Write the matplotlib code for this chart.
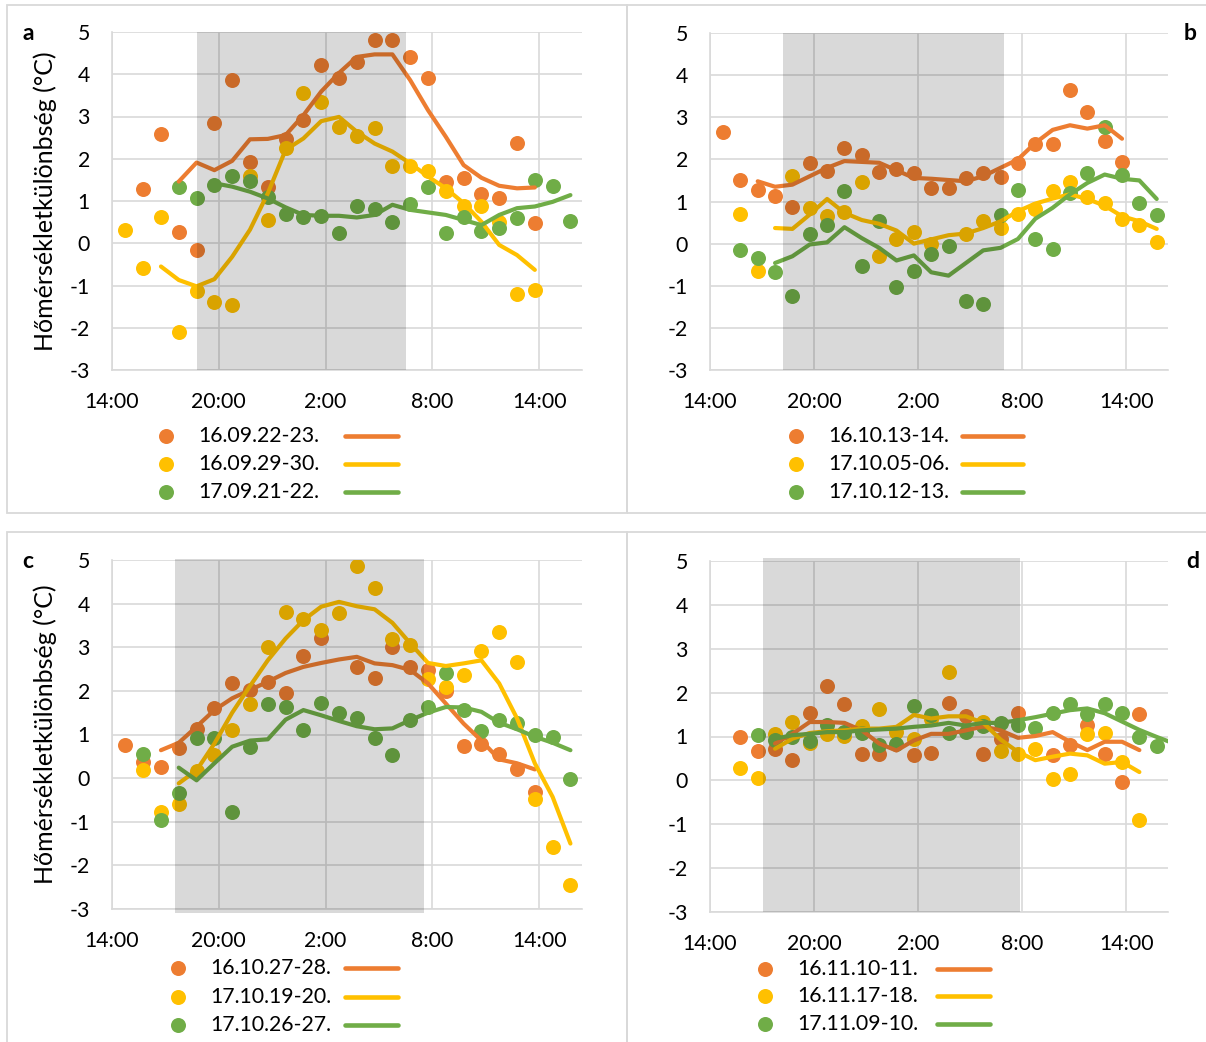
import numpy as np
import matplotlib.pyplot as plt
from matplotlib.patches import Rectangle
from matplotlib.lines import Line2D

plt.rcParams['font.family'] = ['Lato', 'DejaVu Sans']
plt.rcParams['axes.unicode_minus'] = False

W, H = 1206, 1042
nan = np.nan

# measurement times, hours counted from midnight of the first day
HOURS = [14.75, 15.75, 16.75, 17.75, 18.75, 19.75, 20.75, 21.75, 22.75,
         23.75, 24.75, 25.75, 26.75, 27.75, 28.75, 29.75, 30.75, 31.75,
         32.75, 33.75, 34.75, 35.75, 36.75, 37.75, 38.75, 39.75, 40.75]
TICK_HOURS = [14, 20, 26, 32, 38]
TICK_LABELS = ['14:00', '20:00', '2:00', '8:00', '14:00']
COLORS = ['#ED7D31', '#FFC000', '#70AD47']
YLABEL = 'Hőmérsékletkülönbség (°C)'
FS = 15.3

# --- panel a ---
a_labels = ['16.09.22-23.', '16.09.29-30.', '17.09.21-22.']
a_night = (18.78, 30.53)
a_orange_pts = [nan, 1.28, 2.58, 0.26, -0.16, 2.84, 3.86, 1.93, 1.34, 2.46, 2.92, 4.23, 3.90,
                4.29, 4.80, 4.80, 4.40, 3.92, 1.44, 1.54, 1.17, 1.07, 2.38, 0.47, nan, nan]
a_orange_avg = [nan, nan, nan, 1.46, 1.91, 1.73, 1.95, 2.46, 2.47, 2.56, 3.03, 3.59, 4.03,
                4.41, 4.47, 4.47, 3.86, 3.15, 2.52, 1.85, 1.55, 1.36, 1.30, 1.32, nan, nan]
a_yellow_pts = [0.32, -0.59, 0.62, -2.11, -1.13, -1.38, -1.46, 1.58, 0.55, 2.25, 3.56, 3.35, 2.74,
                2.54, 2.73, 1.83, 1.84, 1.72, 1.24, 0.87, 0.89, 0.51, -1.21, -1.10, nan, nan]
a_yellow_avg = [nan, nan, -0.55, -0.87, -1.02, -0.85, -0.32, 0.32, 1.18, 2.21, 2.48, 2.89, 2.99,
                2.64, 2.36, 2.17, 1.89, 1.58, 1.30, 0.95, 0.51, -0.04, -0.28, -0.63, nan, nan]
a_green_pts = [nan, nan, nan, 1.32, 1.07, 1.39, 1.60, 1.48, 1.09, 0.69, 0.63, 0.65, 0.25,
               0.89, 0.81, 0.51, 0.93, 1.32, 0.24, 0.61, 0.28, 0.35, 0.59, 1.50, 1.36, 0.52]
a_green_avg = [nan, nan, nan, nan, nan, 1.42, 1.34, 1.22, 1.06, 0.85, 0.67, 0.65, 0.65,
               0.61, 0.67, 0.91, 0.79, 0.73, 0.67, 0.55, 0.43, 0.67, 0.83, 0.87, 0.98, 1.14]

# --- panel b ---
b_labels = ['16.10.13-14.', '17.10.05-06.', '17.10.12-13.']
b_night = (18.22, 30.94)
b_orange_pts = [2.66, 1.50, 1.28, 1.13, 0.86, 1.92, 1.72, 2.26, 2.10, 1.70, 1.76, 1.68, 1.32,
                1.32, 1.56, 1.67, 1.58, 1.92, 2.36, 2.37, 3.64, 3.13, 2.43, 1.94, nan, nan]
b_orange_avg = [nan, nan, 1.48, 1.35, 1.40, 1.60, 1.80, 1.96, 1.94, 1.92, 1.74, 1.56, 1.54,
                1.51, 1.48, 1.60, 1.80, 2.00, 2.39, 2.70, 2.81, 2.73, 2.81, 2.49, nan, nan]
b_yellow_pts = [nan, 0.71, -0.64, nan, 1.60, 0.85, 0.65, 0.75, 1.47, -0.29, 0.10, 0.28, 0.00,
                nan, 0.23, 0.53, 0.37, 0.71, 0.83, 1.26, 1.46, 1.10, 0.97, 0.59, 0.44, 0.04]
b_yellow_avg = [nan, nan, nan, 0.37, 0.35, 0.69, 1.06, 0.73, 0.56, 0.47, 0.31, 0.00, 0.10,
                0.20, 0.24, 0.37, 0.53, 0.77, 0.95, 1.07, 1.17, 1.06, 0.90, 0.65, 0.53, 0.35]
b_green_pts = [nan, -0.14, -0.33, -0.68, -1.24, 0.23, 0.44, 1.25, -0.52, 0.53, -1.03, -0.66, -0.25,
               -0.06, -1.37, -1.44, 0.67, 1.28, 0.11, -0.12, 1.21, 1.68, 2.77, 1.63, 0.97, 0.67]
b_green_avg = [nan, nan, nan, -0.46, -0.30, -0.02, 0.03, 0.39, 0.13, -0.10, -0.40, -0.28, -0.68,
               -0.76, -0.46, -0.16, -0.10, 0.11, 0.59, 0.85, 1.17, 1.44, 1.64, 1.54, 1.50, 1.06]

# --- panel c ---
c_labels = ['16.10.27-28.', '17.10.19-20.', '17.10.26-27.']
c_night = (17.56, 31.51)
c_orange_pts = [0.77, 0.37, 0.26, 0.68, 1.12, 1.60, 2.17, 2.03, 2.21, 1.96, 2.80, 3.22, nan,
                2.55, 2.30, 3.00, 2.55, 2.48, 1.99, 0.73, 0.79, 0.55, 0.22, -0.31, nan, nan]
c_orange_avg = [nan, nan, 0.64, 0.81, 1.18, 1.56, 1.83, 2.02, 2.21, 2.41, 2.55, 2.64, 2.72,
                2.78, 2.63, 2.59, 2.48, 2.17, 1.71, 1.25, 0.86, 0.43, 0.34, 0.20, nan, nan]
c_yellow_pts = [nan, 0.18, -0.77, -0.60, 0.17, 0.54, 1.10, 1.70, 3.01, 3.80, 3.64, 3.39, 3.79,
                4.86, 4.35, 3.18, 3.05, 2.28, 2.09, 2.36, 2.91, 3.34, 2.67, -0.47, -1.59, -2.44]
c_yellow_avg = [nan, nan, nan, -0.12, 0.18, 0.79, 1.50, 2.11, 2.70, 3.20, 3.62, 3.93, 4.04,
                3.94, 3.87, 3.56, 3.09, 2.64, 2.57, 2.63, 2.70, 2.17, 1.37, 0.34, -0.43, -1.50]
c_green_pts = [nan, 0.55, -0.96, -0.34, 0.91, 0.91, -0.77, 0.72, 1.70, 1.63, 1.10, 1.73, 1.50,
               1.37, 0.91, 0.52, 1.34, 1.63, 2.41, 1.56, 1.08, 1.33, 1.27, 1.00, 0.95, -0.01]
c_green_avg = [nan, nan, nan, 0.24, -0.05, 0.34, 0.72, 0.86, 0.89, 1.34, 1.56, 1.44, 1.31,
               1.19, 1.12, 1.14, 1.33, 1.50, 1.63, 1.62, 1.52, 1.27, 1.12, 0.95, 0.81, 0.64]

# --- panel d ---
d_labels = ['16.11.10-11.', '16.11.17-18.', '17.11.09-10.']
d_night = (17.08, 31.89)
d_orange_pts = [nan, 0.99, 0.66, 0.71, 0.47, 1.54, 2.15, 1.73, 0.61, 0.61, nan, 0.57, 0.63,
                1.77, 1.47, 0.61, 0.94, 1.54, nan, 0.57, 0.81, 1.26, 0.61, -0.04, 1.52, nan]
d_orange_avg = [nan, nan, nan, 0.84, 1.06, 1.33, 1.33, 1.31, 1.14, 0.84, 0.68, 0.91, 1.06,
                1.06, 1.14, 1.23, 1.14, 0.97, 1.01, 1.10, 0.88, 0.69, 0.88, 0.88, 0.69, nan]
d_yellow_pts = [nan, 0.29, 0.05, 1.06, 1.33, 0.86, 1.06, 1.01, 1.25, 1.62, 1.10, 0.95, 1.39,
                2.47, nan, 1.33, 0.68, 0.61, 0.72, 0.04, 0.15, 1.05, 1.08, 0.42, -0.91, nan]
d_yellow_avg = [nan, nan, nan, 0.72, 0.95, 1.08, 1.12, 1.14, 1.18, 1.18, 1.22, 1.49, 1.41,
                1.46, 1.46, 1.31, 0.93, 0.65, 0.46, 0.54, 0.61, 0.57, 0.38, 0.42, 0.19, nan]
d_green_pts = [nan, nan, 1.04, 0.91, 0.99, 0.90, 1.27, 1.10, 1.09, 0.81, 0.84, 1.69, 1.48,
               1.09, 1.10, 1.25, 1.31, 1.27, 1.19, 1.53, 1.74, 1.52, 1.75, 1.54, 0.99, 0.79]
d_green_avg = [nan, nan, nan, 0.95, 1.03, 1.06, 1.10, 1.10, 1.14, 1.16, 1.18, 1.22, 1.25,
               1.31, 1.25, 1.31, 1.31, 1.37, 1.44, 1.52, 1.60, 1.64, 1.53, 1.34, 1.15, 0.99, 0.84]


def fig_box(left, top, right, bottom):
    # pixel box -> figure fraction [x, y, w, h]
    return [left / W, 1 - bottom / H, (right - left) / W, (bottom - top) / H]


def draw_panel(ax, series, night, night_ylim=(-3, 5)):
    for (pts, avg), color in zip(series, COLORS):
        ax.plot(HOURS[:len(pts)], pts, 'o', ms=10.8, mec='none', color=color, zorder=3)
    for (pts, avg), color in zip(series, COLORS):
        ax.plot(HOURS[:len(avg)], avg, '-', lw=3.0, color=color, zorder=4,
                solid_capstyle='round', solid_joinstyle='round')

    # night period, darkening everything below it
    ax.add_patch(Rectangle((night[0], night_ylim[0]), night[1] - night[0],
                           night_ylim[1] - night_ylim[0], facecolor='black',
                           alpha=0.15, lw=0, zorder=6, clip_on=False))

    ax.set_xlim(14, 40.4)
    ax.set_ylim(-3, 5)
    ax.set_xticks(TICK_HOURS)
    ax.set_xticklabels(TICK_LABELS)
    ax.set_yticks(range(-3, 6))
    ax.grid(True, color='#D9D9D9', lw=1.2, zorder=0)
    ax.set_axisbelow(True)
    for side in ['top', 'right']:
        ax.spines[side].set_visible(False)
    for side in ['left', 'bottom']:
        ax.spines[side].set_color('#D9D9D9')
        ax.spines[side].set_linewidth(1.2)
    ax.tick_params(length=0, labelsize=FS, colors='black')
    ax.tick_params(axis='y', pad=16)
    ax.tick_params(axis='x', pad=16)


def draw_legend(fig, labels, marker_x, text_x, line_x, rows_y):
    for label, color, y in zip(labels, COLORS, rows_y):
        fig.add_artist(Line2D([marker_x / W], [1 - y / H], marker='o', ms=10.8, mec='none',
                              color=color, transform=fig.transFigure))
        fig.text(text_x / W, 1 - y / H, label, fontsize=FS, va='center', ha='left')
        fig.add_artist(Line2D([line_x[0] / W, line_x[1] / W], [1 - y / H, 1 - y / H],
                              lw=3.3, color=color, solid_capstyle='round',
                              transform=fig.transFigure))


fig = plt.figure(figsize=(W / 100, H / 100), dpi=100)

# panel frames
for left, top, right, bottom in [(7, 5, 627, 513), (627, 5, 1210, 513),
                                 (7, 532, 627, 1046), (627, 532, 1210, 1046)]:
    x0, y0, w, h = fig_box(left, top, right, bottom)
    fig.add_artist(Rectangle((x0, y0), w, h, fill=False, ec='#D9D9D9', lw=1.3,
                             transform=fig.transFigure))

ax_a = fig.add_axes(fig_box(112, 32, 582, 370))
ax_b = fig.add_axes(fig_box(710, 33, 1168, 370))
ax_c = fig.add_axes(fig_box(112, 560, 582, 909))
ax_d = fig.add_axes(fig_box(710, 561, 1168, 912))

draw_panel(ax_a, [(a_orange_pts, a_orange_avg), (a_yellow_pts, a_yellow_avg),
                  (a_green_pts, a_green_avg)], a_night)
draw_panel(ax_b, [(b_orange_pts, b_orange_avg), (b_yellow_pts, b_yellow_avg),
                  (b_green_pts, b_green_avg)], b_night)
draw_panel(ax_c, [(c_orange_pts, c_orange_avg), (c_yellow_pts, c_yellow_avg),
                  (c_green_pts, c_green_avg)], c_night, night_ylim=(-3.1, 5.02))
draw_panel(ax_d, [(d_orange_pts, d_orange_avg), (d_yellow_pts, d_yellow_avg),
                  (d_green_pts, d_green_avg)], d_night, night_ylim=(-3, 5.06))

for ax in [ax_a, ax_c]:
    box = ax.get_position()
    fig.text(45 / W, box.y0 + box.height / 2, YLABEL, rotation=90, fontsize=18,
             va='center', ha='center')

draw_legend(fig, a_labels, 166, 198, (345, 398), [436, 464, 492])
draw_legend(fig, b_labels, 796, 828, (962, 1023), [436, 464, 492])
draw_legend(fig, c_labels, 178, 210, (345, 398), [968, 997, 1025])
draw_legend(fig, d_labels, 765, 797, (937, 990), [969, 996, 1024])

for letter, x, y in [('a', 28, 33), ('b', 1190, 33), ('c', 28, 561), ('d', 1193, 561)]:
    fig.text(x / W, 1 - y / H, letter, fontsize=16.5, fontweight='bold',
             ha='center', va='center')

fig.savefig('out.png', dpi=100)
